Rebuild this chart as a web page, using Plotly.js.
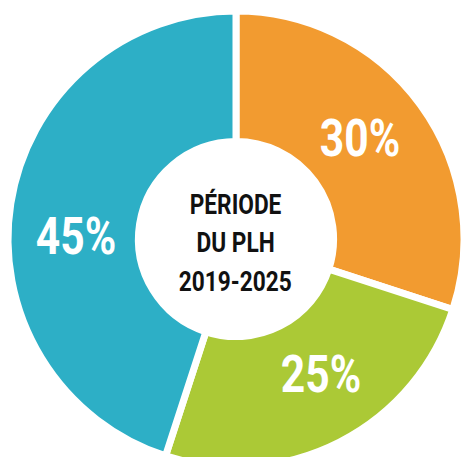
<!DOCTYPE html>
<html>
<head>
<meta charset="utf-8">
<script src="https://cdn.plot.ly/plotly-3.0.1.min.js"></script>
<style>
html,body{margin:0;padding:0;overflow:hidden;background:#fff;}
#chart{width:480px;height:480px;}
</style>
</head>
<body>
<div id="chart"></div>
<script>
// ---- data ----
const categories = ["Part A", "Part B", "Part C"];
const values = [30, 25, 45];
const colors = ["#F29B30", "#ABC936", "#2DAFC6"];
const centerLines = ["PÉRIODE", "DU PLH", "2019-2025"];

// ---- style / layout constants ----
const W = 480, H = 480;
const CX = 236, CY = 239, R = 228;      // pie centre and radius, px
const HOLE = 0.428;
const labelNudgeDeg = [-3, -5, -8];      // small manual placement nudges
const labelRadius = 160;
const fontFam = "Roboto, 'DejaVu Sans', sans-serif";
const pctSize = 52, pctScale = 0.82;
const ctrSize = 27, ctrScale = 0.84, ctrLineGap = 39;

const trace = {
  type: "pie",
  labels: categories,
  values: values,
  sort: false,
  direction: "clockwise",
  rotation: 0,
  hole: HOLE,
  marker: {colors: colors, line: {color: "#ffffff", width: 7}},
  textinfo: "none",
  domain: {x: [(CX - R) / W, (CX + R) / W], y: [1 - (CY + R) / H, 1 - (CY - R) / H]},
  hoverinfo: "none",
  showlegend: false
};

// percent labels placed at each slice's mid-angle (computed from values)
const total = values.reduce((a, b) => a + b, 0);
const annotations = [];
let cum = 0;
values.forEach((v, i) => {
  const midDeg = (cum + v / 2) / total * 360 + labelNudgeDeg[i];
  cum += v;
  const a = midDeg * Math.PI / 180;
  const px = CX + labelRadius * Math.sin(a);
  const py = CY - labelRadius * Math.cos(a);
  annotations.push({
    x: px / W, y: 1 - py / H, xref: "paper", yref: "paper",
    xanchor: "center", yanchor: "middle", showarrow: false,
    text: Math.round(v / total * 100) + "%",
    font: {family: fontFam, size: pctSize, color: "#ffffff", weight: "bold"},
    name: "pct"
  });
});
centerLines.forEach((t, k) => {
  const py = CY + (k - (centerLines.length - 1) / 2) * ctrLineGap + 4;
  annotations.push({
    x: (CX - 1) / W, y: 1 - py / H, xref: "paper", yref: "paper",
    xanchor: "center", yanchor: "middle", showarrow: false,
    text: t,
    font: {family: fontFam, size: ctrSize, color: "#111111", weight: "bold"},
    name: "ctr"
  });
});

Plotly.newPlot("chart", [trace], {
  width: W, height: H,
  margin: {l: 0, r: 0, t: 0, b: 0},
  paper_bgcolor: "#ffffff",
  showlegend: false,
  annotations: annotations
}, {staticPlot: true}).then(() => {
  // horizontally condense the label text (condensed display face)
  document.querySelectorAll("#chart .annotation-text").forEach((el, idx) => {
    const s = annotations[idx] && annotations[idx].name === "pct" ? pctScale : ctrScale;
    const bb = el.getBBox();
    const c = bb.x + bb.width / 2;
    const prev = el.getAttribute("transform") || "";
    el.setAttribute("transform", prev + " translate(" + c + ",0) scale(" + s + ",1) translate(" + (-c) + ",0)");
  });
});
</script>
</body>
</html>
